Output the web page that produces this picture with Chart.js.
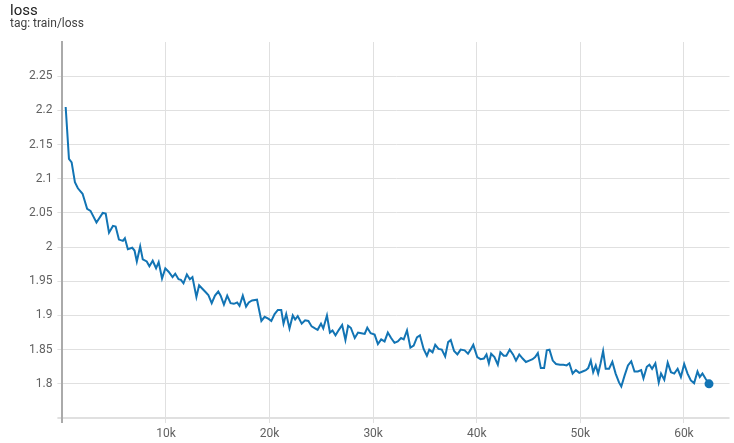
<!DOCTYPE html>
<html>
<head>
<meta charset="utf-8">
<script src="https://cdn.jsdelivr.net/npm/chart.js@4/dist/chart.umd.min.js"></script>
<style>
  html, body { margin: 0; padding: 0; background: #fff; }
  #chart { display: block; }
</style>
</head>
<body>
<canvas id="chart" width="734" height="443"></canvas>
<script>
"use strict";
// tag: train/loss
var steps = [316, 633, 892, 1208, 1496, 1947, 2388, 2714, 3289, 3894, 4181, 4498, 4881, 5140, 5457, 5840, 6032, 6320, 6742, 6962, 7183, 7509, 7758, 8142, 8401, 8717, 9043, 9293, 9619, 9935, 10252, 10635, 10894, 11211,
  11441, 11690, 12016, 12304, 12553, 12937, 13196, 13512, 13838, 14088, 14414, 14730, 15047, 15277, 15593, 15910, 16236, 16552, 16869, 17099, 17415, 17732, 17991, 18307, 18787, 19209, 19525, 19909, 20168, 20484, 20801, 21127,
  21347, 21606, 21923, 22239, 22469, 22719, 23102, 23428, 23745, 24061, 24387, 24637, 24963, 25183, 25538, 25826, 26075, 26363, 26689, 27006, 27322, 27581, 27840, 28224, 28540, 28856, 29183, 29432, 29758, 30142, 30458, 30775, 31101, 31417,
  31733, 32060, 32376, 32693, 32952, 33268, 33594, 33911, 34227, 34515, 34870, 35186, 35416, 35733, 35992, 36308, 36625, 36951, 37239, 37488, 37814, 38131, 38447, 38831, 39157, 39406, 39665, 40049, 40365, 40691, 40941, 41171, 41391, 41708, 42034,
  42282, 42608, 42858, 43184, 43501, 43789, 44105, 44431, 44748, 45064, 45390, 45640, 45899, 46186, 46503, 46762, 47021, 47337, 47654, 48037, 48363, 48680, 48939, 49255, 49572, 49898, 50214, 50531, 50761, 51010, 51240, 51490, 51720, 51940, 52199, 52449,
  52774, 53091, 53407, 53733, 53954, 54270, 54597, 54913, 55230, 55556, 55872, 56093, 56419, 56668, 56927, 57243, 57569, 57790, 58106, 58433, 58749, 59066, 59392, 59708, 60025, 60351, 60667, 60984, 61310, 61530, 61789, 62106, 62422];

var loss = [2.205, 2.129, 2.124, 2.095, 2.086, 2.078, 2.056, 2.053, 2.036, 2.050, 2.049, 2.021, 2.031, 2.030, 2.011, 2.009, 2.013, 1.997, 1.999, 1.995, 1.979, 2.001, 1.982, 1.979, 1.972, 1.980, 1.969, 1.978, 1.954, 1.969, 1.964, 1.956, 1.961, 1.953,
  1.952, 1.947, 1.960, 1.953, 1.956, 1.927, 1.944, 1.939, 1.934, 1.930, 1.918, 1.929, 1.935, 1.929, 1.916, 1.929, 1.918, 1.917, 1.919, 1.914, 1.929, 1.913, 1.919, 1.922, 1.923, 1.892, 1.898, 1.895, 1.892, 1.902, 1.908, 1.908,
  1.888, 1.902, 1.881, 1.900, 1.894, 1.899, 1.888, 1.893, 1.892, 1.884, 1.881, 1.879, 1.888, 1.881, 1.900, 1.875, 1.878, 1.871, 1.879, 1.886, 1.864, 1.885, 1.882, 1.867, 1.875, 1.874, 1.873, 1.882, 1.874, 1.872, 1.858, 1.865, 1.862, 1.875,
  1.867, 1.860, 1.862, 1.867, 1.865, 1.878, 1.853, 1.856, 1.868, 1.871, 1.851, 1.841, 1.850, 1.846, 1.857, 1.851, 1.850, 1.840, 1.861, 1.864, 1.848, 1.843, 1.850, 1.849, 1.844, 1.850, 1.857, 1.839, 1.836, 1.837, 1.843, 1.830, 1.844, 1.839, 1.828,
  1.846, 1.841, 1.841, 1.850, 1.843, 1.834, 1.843, 1.837, 1.832, 1.834, 1.836, 1.839, 1.845, 1.823, 1.823, 1.849, 1.850, 1.834, 1.829, 1.828, 1.828, 1.827, 1.830, 1.815, 1.820, 1.816, 1.818, 1.820, 1.823, 1.834, 1.817, 1.827, 1.815, 1.829, 1.848, 1.822,
  1.822, 1.832, 1.815, 1.802, 1.796, 1.812, 1.827, 1.833, 1.818, 1.818, 1.820, 1.808, 1.825, 1.828, 1.822, 1.830, 1.802, 1.815, 1.806, 1.831, 1.817, 1.815, 1.822, 1.810, 1.829, 1.815, 1.805, 1.801, 1.818, 1.810, 1.815, 1.807, 1.800];

var xTicks = [0, 10000, 20000, 30000, 40000, 50000, 60000];
var yTicks = [1.75, 1.8, 1.85, 1.9, 1.95, 2, 2.05, 2.1, 2.15, 2.2, 2.25, 2.3];

var points = [];
for (var i = 0; i < steps.length; i++) {
  points.push({ x: steps[i], y: loss[i] });
}

// title + tag text above the plot
var headerPlugin = {
  id: 'header',
  afterDraw: function(chart) {
    var ctx = chart.ctx;
    ctx.save();
    ctx.textAlign = 'left';
    ctx.textBaseline = 'alphabetic';
    ctx.fillStyle = '#212121';
    ctx.font = '15px Roboto';
    ctx.fillText('loss', 10, 15);
    ctx.fillStyle = '#424242';
    ctx.font = '12px Roboto';
    ctx.fillText('tag: train/loss', 10, 27);
    ctx.restore();
  }
};

var ctx = document.getElementById('chart').getContext('2d');
var lossChart = new Chart(ctx, {
  type: 'line',
  data: {
    datasets: [{
      label: 'train/loss',
      data: points,
      borderColor: 'rgb(18,116,180)',
      backgroundColor: 'rgb(18,116,180)',
      borderWidth: 2,
      tension: 0,
      fill: false,
      pointRadius: function(c) { return c.dataIndex === steps.length - 1 ? 4.5 : 0; },
      pointHoverRadius: 0,
      pointBorderWidth: 0
    }]
  },
  options: {
    responsive: false,
    animation: false,
    devicePixelRatio: 1,
    layout: { padding: { left: 10, top: 42, right: 0, bottom: 0 } },
    plugins: {
      legend: { display: false },
      tooltip: { enabled: false },
      title: { display: false }
    },
    scales: {
      x: {
        type: 'linear',
        min: 0,
        max: 64400,
        afterBuildTicks: function(scale) {
          scale.ticks = xTicks.map(function(v) { return { value: v }; });
        },
        afterFit: function(scale) {
          scale.height = 25;
          scale.paddingLeft = 0;
          scale.paddingRight = 0;
        },
        border: { display: false },
        grid: {
          color: function(c) { return c.tick && c.tick.value === 0 ? '#aaaaaa' : '#e0e0e0'; },
          lineWidth: function(c) { return c.tick && c.tick.value === 0 ? 2 : 1; },
          tickLength: 5
        },
        ticks: {
          padding: 4,
          color: '#616161',
          font: { family: 'Roboto', size: 12 },
          maxRotation: 0,
          callback: function(v) { return v === 0 ? '' : (v / 1000) + 'k'; }
        }
      },
      y: {
        min: 1.75,
        max: 2.3,
        afterBuildTicks: function(scale) {
          scale.ticks = yTicks.map(function(v) { return { value: v }; });
        },
        afterFit: function(scale) {
          scale.width = 52.4;
          scale.paddingTop = 0;
          scale.paddingBottom = 0;
        },
        border: { display: true, color: '#aaaaaa', width: 2 },
        grid: {
          color: function(c) {
            if (!c.tick) return '#e0e0e0';
            if (c.tick.value > 2.26) return 'rgba(0,0,0,0)';
            return '#e0e0e0';
          },
          lineWidth: function(c) { return c.tick && c.tick.value < 1.76 ? 2 : 1; },
          tickLength: 5
        },
        ticks: {
          padding: 5,
          color: '#616161',
          font: { family: 'Roboto', size: 12 },
          callback: function(v) {
            if (v < 1.76 || v > 2.26) return '';
            return String(Math.round(v * 100) / 100);
          }
        }
      }
    }
  },
  plugins: [headerPlugin]
});
</script>
</body>
</html>
